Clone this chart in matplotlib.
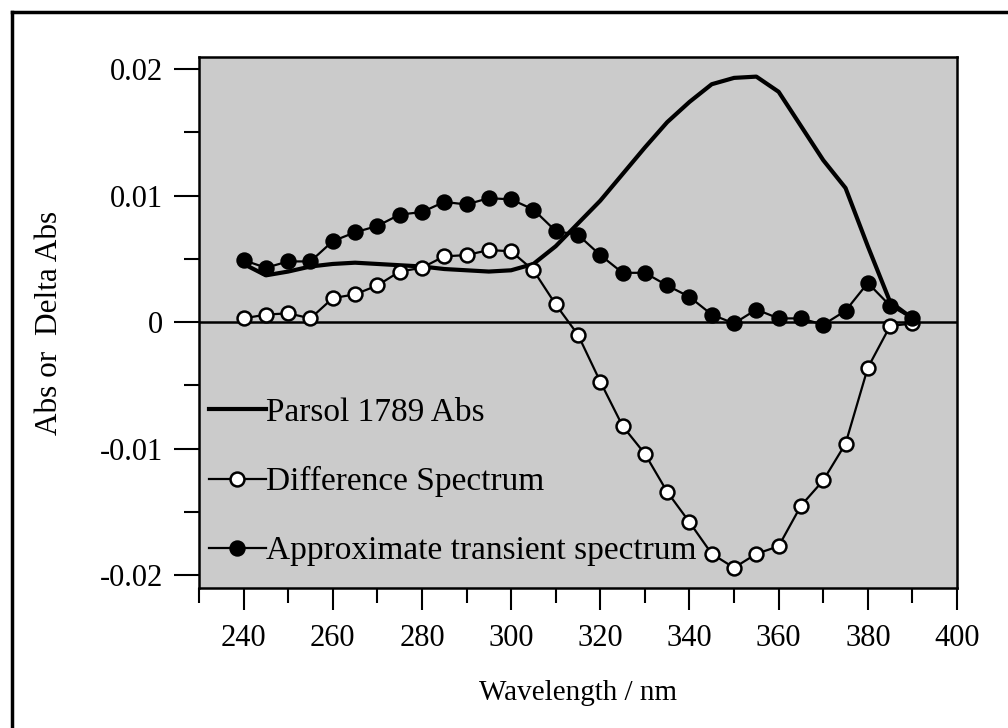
import numpy as np
import matplotlib
matplotlib.use("Agg")
import matplotlib.pyplot as plt
from matplotlib.lines import Line2D

# wavelengths (nm)
wavelength = [240, 245, 250, 255, 260, 265, 270, 275, 280, 285, 290, 295, 300,
              305, 310, 315, 320, 325, 330, 335, 340, 345, 350, 355, 360, 365,
              370, 375, 380, 385, 390]

parsol_abs = [0.0046, 0.0037, 0.0040, 0.0044, 0.0046, 0.0047, 0.0046, 0.0045,
              0.0044, 0.0042, 0.0041, 0.0040, 0.0041, 0.0046, 0.0060, 0.0078,
              0.0096, 0.0117, 0.0138, 0.0158, 0.0174, 0.0188, 0.0193, 0.0194,
              0.0182, 0.0155, 0.0128, 0.0106, 0.0060, 0.0016, 0.0003]

difference = [0.0003, 0.0006, 0.0007, 0.0003, 0.0019, 0.0022, 0.0029, 0.0040,
              0.0043, 0.0052, 0.0053, 0.0057, 0.0056, 0.0041, 0.0014, -0.0010,
              -0.0047, -0.0082, -0.0104, -0.0134, -0.0158, -0.0183, -0.0194,
              -0.0183, -0.0177, -0.0145, -0.0125, -0.0096, -0.0036, -0.0003,
              -0.0001]

transient = [0.0049, 0.0043, 0.0048, 0.0048, 0.0064, 0.0071, 0.0076, 0.0085,
             0.0087, 0.0095, 0.0093, 0.0098, 0.0097, 0.0089, 0.0072, 0.0069,
             0.0053, 0.0039, 0.0039, 0.0029, 0.0020, 0.0006, -0.0001, 0.0010,
             0.0003, 0.0003, -0.0002, 0.0009, 0.0031, 0.0013, 0.0003]

labels = ["Parsol 1789 Abs", "Difference Spectrum", "Approximate transient spectrum"]

plt.rcParams['font.family'] = ['Liberation Serif', 'DejaVu Serif']
plt.rcParams['font.size'] = 22

fig = plt.figure(figsize=(10.08, 7.28), dpi=100)
ax = fig.add_axes([199 / 1008, 1 - 588 / 728, (957 - 199) / 1008, (588 - 57) / 728])
ax.set_facecolor('#cbcbcb')

ax.axhline(0, color='black', lw=1.8, zorder=1)
ax.plot(wavelength, parsol_abs, color='black', lw=3.0, zorder=2)
ax.plot(wavelength, difference, color='black', lw=1.6, marker='o', ms=10,
        mfc='white', mec='black', mew=1.8, zorder=3)
ax.plot(wavelength, transient, color='black', lw=1.6, marker='o', ms=10,
        mfc='black', mec='black', mew=1.8, zorder=4)

ax.set_xlim(230, 400)
ax.set_ylim(-0.0210, 0.02095)
ax.set_xticks(np.arange(240, 401, 20))
ax.set_xticks(np.arange(230, 401, 10), minor=True)
ax.set_yticks([-0.02, -0.01, 0, 0.01, 0.02])
ax.set_yticklabels(['-0.02', '-0.01', '0', '0.01', '0.02'])
ax.set_yticks(np.arange(-0.02, 0.0201, 0.005), minor=True)
ax.tick_params(axis='x', which='major', direction='out', length=16, width=1.5, pad=10)
ax.tick_params(axis='y', which='major', direction='out', length=18, width=1.5, pad=8)
ax.tick_params(which='minor', direction='out', length=11, width=1.5)
for s in ax.spines.values():
    s.set_linewidth(1.8)

ax.set_xlabel('Wavelength / nm', fontsize=21, labelpad=19)
ax.set_ylabel('Abs or  Delta Abs', fontsize=22.5, labelpad=26)

handles = [
    Line2D([], [], color='black', lw=3.0),
    Line2D([], [], color='black', lw=1.6, marker='o', ms=10, mfc='white', mec='black', mew=1.8),
    Line2D([], [], color='black', lw=1.6, marker='o', ms=10, mfc='black', mec='black', mew=1.8),
]
ax.legend(handles, labels, loc='lower left', bbox_to_anchor=(0.0, 0.022),
          frameon=False, handlelength=1.7, handletextpad=0.0, borderpad=0.0,
          labelspacing=1.15, borderaxespad=0.3, fontsize=24)

# outer frame of the scanned page
fig.add_artist(Line2D([12 / 1008, 12 / 1008], [0, 1 - 12 / 728], color='black', lw=2.5))
fig.add_artist(Line2D([12 / 1008, 1], [1 - 12 / 728, 1 - 12 / 728], color='black', lw=2.5))

fig.savefig('out.png', dpi=100)
